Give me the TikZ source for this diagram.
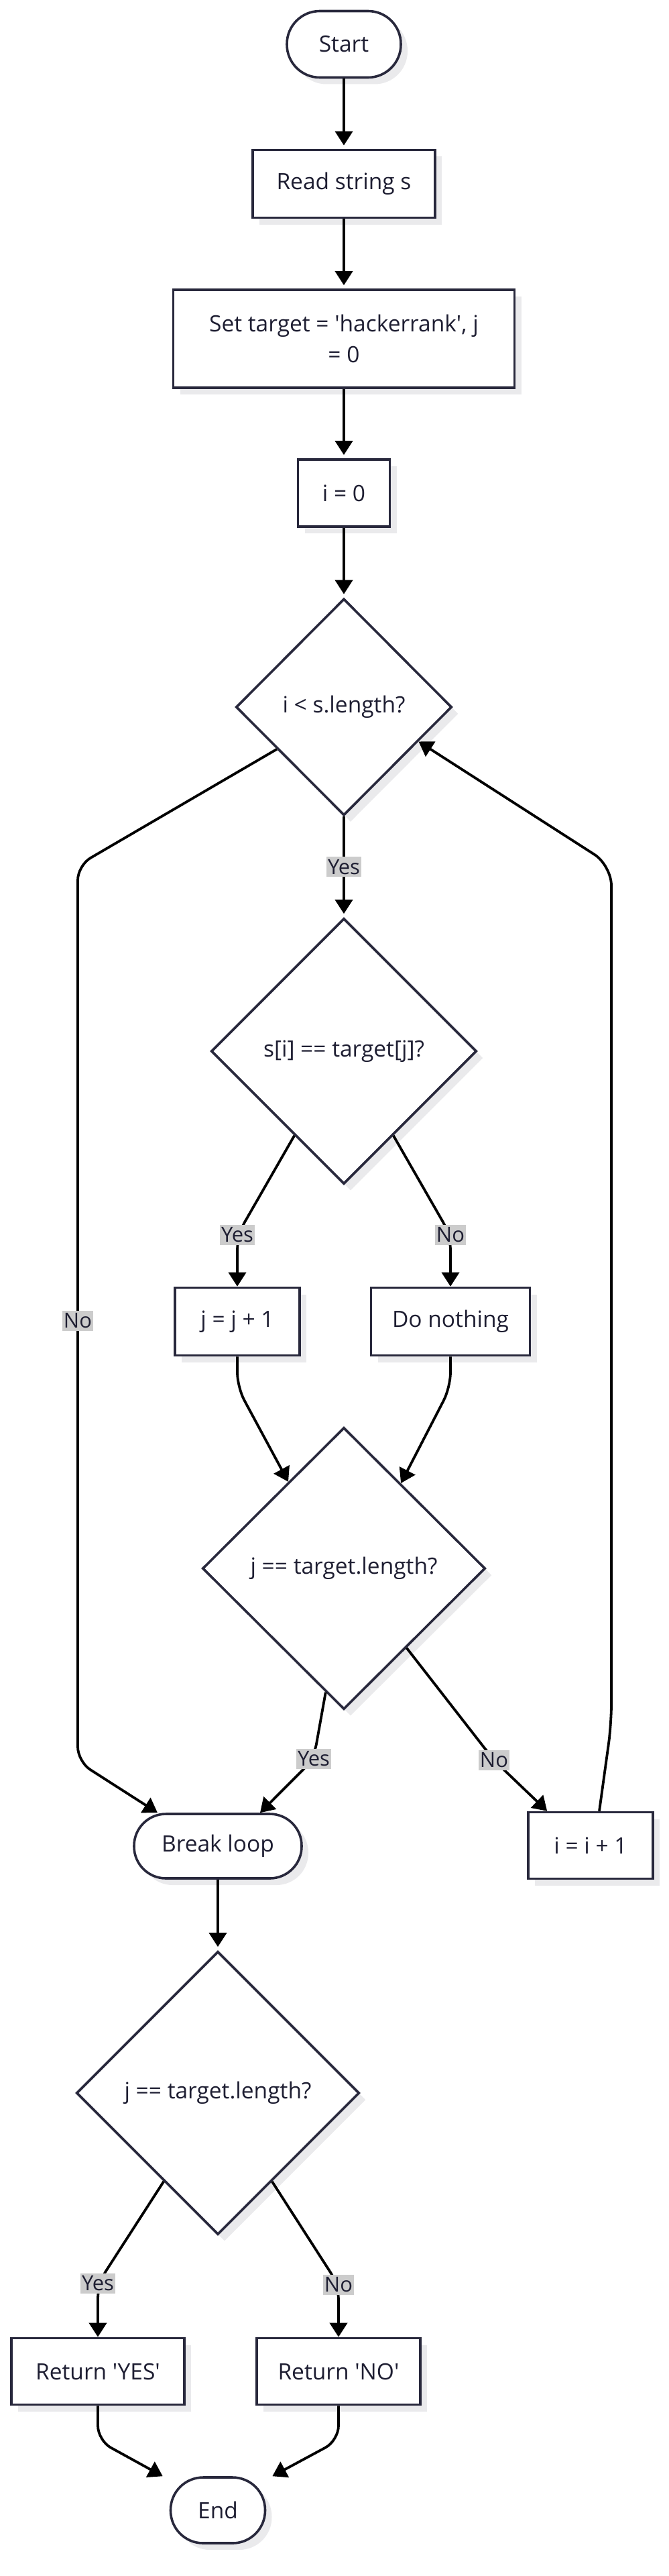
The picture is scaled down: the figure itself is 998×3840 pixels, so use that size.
\documentclass[tikz,border=0pt]{standalone}
\usepackage{fontspec}
\setmainfont{Open Sans}[Ligatures=TeXOff]
\usetikzlibrary{shapes.geometric,arrows.meta,calc,shadows}
\definecolor{linec}{RGB}{40,40,60}
\definecolor{textc}{RGB}{30,30,50}
\definecolor{shadowc}{RGB}{234,234,236}
\definecolor{edgelblbg}{RGB}{204,204,204}
\tikzset{
  base/.style={draw=linec, line width=3.6pt, fill=white, text=textc, align=center,
    font=\fontsize{33.5}{46}\selectfont,
    drop shadow={shadow xshift=10pt, shadow yshift=-10pt, fill=shadowc, opacity=1}},
  term/.style={base, rectangle, rounded corners=#1, inner sep=0pt},
  stepbox/.style={base, rectangle, inner sep=0pt},
  decision/.style={base, diamond, inner sep=0pt},
  arr/.style={draw=black, line width=3.8pt, -{Triangle[length=21pt,width=26pt]}, rounded corners=22pt},
  edgelbl/.style={draw=none, fill=edgelblbg, fill opacity=1, text opacity=1, text=textc,
    inner xsep=2pt, inner ysep=4pt, font=\fontsize{31}{34}\selectfont}
}
\begin{document}
\begin{tikzpicture}[x=1pt,y=-1pt]
\useasboundingbox (0,0) rectangle (998,3840);
% nodes
\node[term=49pt, minimum width=170pt, minimum height=99pt] (start) at (513,66) {Start};
\node[stepbox, minimum width=272pt, minimum height=101pt] (read) at (513,274) {Read string s};
\node[stepbox, minimum width=509pt, minimum height=146pt] (set) at (513,505) {Set target = 'hackerrank', j\\= 0};
\node[stepbox, minimum width=137pt, minimum height=100pt] (i0) at (513,735) {i = 0};
\node[decision, minimum width=322pt, minimum height=323pt] (d1) at (513,1054) {i < s.length?};
\node[decision, minimum width=396pt, minimum height=396pt] (d2) at (513,1567) {s[i] == target[j]?};
\node[stepbox, minimum width=186pt, minimum height=101pt] (jp) at (354,1970) {j = j + 1};
\node[stepbox, minimum width=237pt, minimum height=101pt] (dn) at (672,1970) {Do nothing};
\node[decision, minimum width=422pt, minimum height=420pt] (d3) at (513,2338) {j == target.length?};
\node[term=47.5pt, minimum width=250pt, minimum height=96pt] (bl) at (325,2752) {Break loop};
\node[stepbox, minimum width=186pt, minimum height=99pt] (ii) at (881,2751) {i = i + 1};
\node[decision, minimum width=422pt, minimum height=422pt] (d4) at (325,3120) {j == target.length?};
\node[stepbox, minimum width=258pt, minimum height=99pt] (rety) at (146,3535) {Return 'YES'};
\node[stepbox, minimum width=244pt, minimum height=99pt] (retn) at (505,3535) {Return 'NO'};
\node[term=48.5pt, minimum width=141pt, minimum height=98pt] (end) at (325,3742) {End};
% edges
\draw[arr, shorten >=5pt] (start) -- (read);
\draw[arr, shorten >=5pt] (read) -- (set);
\draw[arr, shorten >=5pt] (set) -- (i0);
\draw[arr, shorten >=5pt] (i0) -- (d1);
\draw[arr, shorten >=5pt] (d1) -- coordinate[pos=0.5] (ly1) (d2);
\draw[arr] ($(d1.west)!0.385!(d1.south)$) -- (116,1290) -- coordinate[pos=0.5] (ln1) (116,2626) -- ($(bl.north)+(-90,0)$);
\draw[arr, rounded corners=30pt] ($(ii.north)+(13,0)$) -- (912,2570) -- (912,1290) -- ($(d1.east)!0.315!(d1.south)$);
\draw[arr] ($(d2.west)!0.63!(d2.south)$) -- (354,1841) coordinate (ly2) -- (jp.north);
\draw[arr] ($(d2.east)!0.63!(d2.south)$) -- (672,1841) coordinate (ln2) -- (dn.north);
\draw[arr] (jp.south) -- (354,2068) -- ($(d3.north)!0.39!(d3.west)$);
\draw[arr] (dn.south) -- (672,2068) -- ($(d3.north)!0.40!(d3.east)$);
\draw[arr] ($(d3.south)!0.128!(d3.west)$) -- (468,2622) coordinate (ly3) -- ($(bl.north)+(63,0)$);
\draw[arr] ($(d3.south)!0.44!(d3.east)$) -- (737,2624) coordinate (ln3) -- ($(ii.north west)+(30,0)$);
\draw[arr, shorten >=5pt] (bl) -- (d4);
\draw[arr] ($(d4.west)!0.62!(d4.south)$) -- (146,3404) coordinate (ly4) -- (rety.north);
\draw[arr] ($(d4.east)!0.62!(d4.south)$) -- (505,3406) coordinate (ln4) -- (retn.north);
\draw[arr] (rety.south) -- (146,3638) -- ($(end.north west)+(-10,0)$);
\draw[arr] (retn.south) -- (505,3638) -- ($(end.north east)+(9,0)$);
% edge labels
\node[edgelbl] (t1) at (ly1) {Yes};
\node[edgelbl] (t2) at ($(ln1)+(0,11)$) {No};
\node[edgelbl] (t3) at (ly2) {Yes};
\node[edgelbl] (t4) at (ln2) {No};
\node[edgelbl] (t5) at (ly3) {Yes};
\node[edgelbl] (t6) at (ln3) {No};
\node[edgelbl] (t7) at (ly4) {Yes};
\node[edgelbl] (t8) at (ln4) {No};
\end{tikzpicture}
\end{document}
